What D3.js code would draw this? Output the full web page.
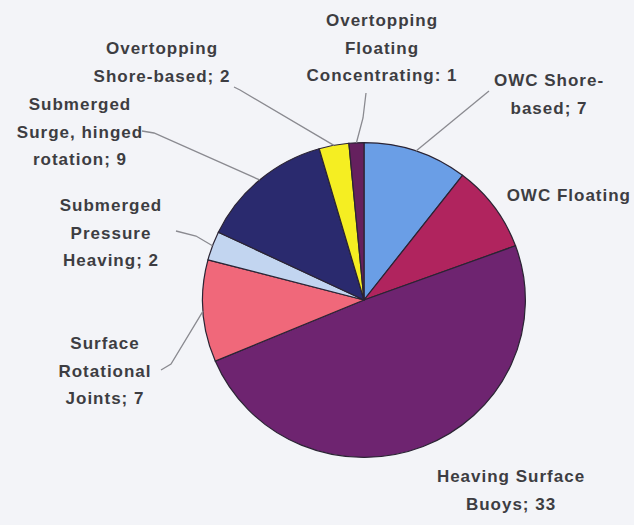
<!DOCTYPE html>
<html>
<head>
<meta charset="utf-8">
<script src="https://cdn.jsdelivr.net/npm/d3@7"></script>
<style>
  body { margin: 0; background: #f3f4f8; overflow: hidden; }
  #chart text { font-family: "Liberation Sans", Arial, sans-serif; font-weight: bold; font-size: 17px; letter-spacing: 1px; fill: #3d3d42; }
</style>
</head>
<body>
<div id="chart"></div>
<script>
// data, clockwise from 12 o'clock
var categories = [
  "OWC Shore-based",
  "OWC Floating",
  "Heaving Surface Buoys",
  "Surface Rotational Joints",
  "Submerged Pressure Heaving",
  "Submerged Surge, hinged rotation",
  "Overtopping Shore-based",
  "Overtopping Floating Concentrating"
];
var values = [7, 6, 33, 7, 2, 9, 2, 1];
var colors = ["#6a9ee6", "#b0245e", "#6e2470", "#f0687a", "#c2d5f0", "#2a2a6e", "#f5ee22", "#65205e"];

// label text lines (as laid out in the picture; the OWC Floating value runs off the page there)
var labelLines = [
  ["OWC Shore-", "based; 7"],
  ["OWC Floating"],
  ["Heaving Surface", "Buoys; 33"],
  ["Surface", "Rotational", "Joints; 7"],
  ["Submerged", "Pressure", "Heaving; 2"],
  ["Submerged", "Surge, hinged", "rotation; 9"],
  ["Overtopping", "Shore-based; 2"],
  ["Overtopping", "Floating", "Concentrating: 1"]
];

// label layout: x, first baseline, anchor, leader start + elbow
var labelLayout = [
  { x: 549, y: 86, anchor: "middle", leader: [[489, 91]] },
  { x: 631, y: 201, anchor: "end", leader: null },
  { x: 511, y: 482, anchor: "middle", leader: null },
  { x: 105, y: 349, anchor: "middle", leader: [[161, 370], [171, 364]] },
  { x: 111, y: 211, anchor: "middle", leader: [[176, 231], [196, 236]] },
  { x: 80, y: 110, anchor: "middle", leader: [[142, 131], [154, 133]] },
  { x: 162, y: 54, anchor: "middle", leader: [[234, 87], [240, 90]] },
  { x: 382, y: 26, anchor: "middle", leader: [[366, 93], [363, 118]] }
];

var width = 634, height = 525;
var cx = 364, cy = 300, radius = 159;
var lineHeight = 27.5;

var svg = d3.select("#chart").append("svg")
  .attr("width", width)
  .attr("height", height);

var data = categories.map(function(c, i) { return { name: c, value: values[i], i: i }; });

var pie = d3.pie()
  .sort(null)
  .value(function(d) { return d.value; });

var arc = d3.arc()
  .innerRadius(0)
  .outerRadius(radius);

var arcs = pie(data);

var g = svg.append("g")
  .attr("transform", "translate(" + cx + "," + cy + ") scale(1.015,0.99)");

g.selectAll("path")
  .data(arcs)
  .enter()
  .append("path")
  .attr("d", arc)
  .attr("fill", function(d) { return colors[d.data.i]; })
  .attr("stroke", "#2b2434")
  .attr("stroke-width", 1.2);

// leader lines: from label to the slice edge at its mid angle
svg.selectAll(".leader")
  .data(arcs.filter(function(d) { return labelLayout[d.data.i].leader; }))
  .enter()
  .append("polyline")
  .attr("class", "leader")
  .attr("fill", "none")
  .attr("stroke", "#8a8a90")
  .attr("stroke-width", 1.3)
  .attr("points", function(d) {
    var a = (d.startAngle + d.endAngle) / 2;
    var px = cx + Math.sin(a) * radius * 1.015;
    var py = cy - Math.cos(a) * radius * 0.99;
    var pts = labelLayout[d.data.i].leader.concat([[px, py]]);
    return pts.map(function(p) { return p[0] + "," + p[1]; }).join(" ");
  });

// labels
var labels = svg.selectAll(".label")
  .data(arcs)
  .enter()
  .append("text")
  .attr("class", "label")
  .attr("text-anchor", function(d) { return labelLayout[d.data.i].anchor; });

labels.selectAll("tspan")
  .data(function(d) {
    var L = labelLayout[d.data.i];
    return labelLines[d.data.i].map(function(t, k) { return { t: t, x: L.x, y: L.y + k * lineHeight }; });
  })
  .enter()
  .append("tspan")
  .attr("x", function(d) { return d.x; })
  .attr("y", function(d) { return d.y; })
  .text(function(d) { return d.t; });
</script>
</body>
</html>
